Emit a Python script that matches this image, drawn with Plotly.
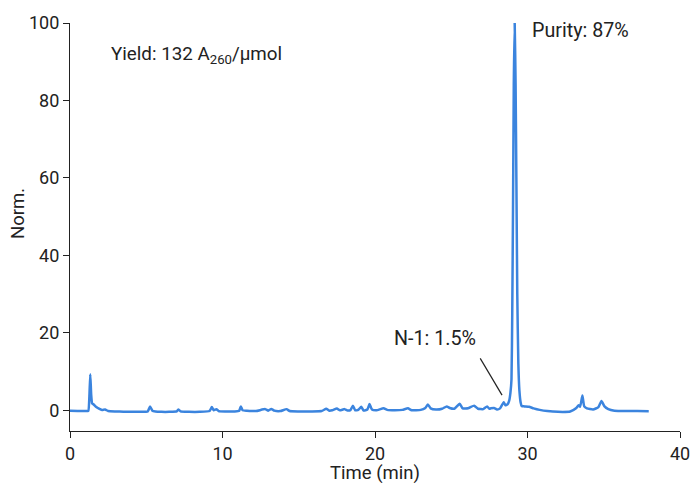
import plotly.graph_objects as go

# Chromatogram trace (time in min, normalized absorbance)
time_min = [
    0.0, 0.5, 1.0, 1.2, 1.27, 1.33, 1.39, 1.45, 1.55, 1.7, 1.9, 2.1, 2.3, 2.5,
    3.0, 3.5, 4.0, 4.5, 5.1, 5.25, 5.4, 5.6, 6.0, 6.5, 7.0, 7.1, 7.25, 7.8,
    8.5, 9.15, 9.3, 9.42, 9.6, 9.75, 10.2, 10.8, 11.1, 11.2, 11.32, 11.6,
    12.2, 12.8, 13.0, 13.2, 13.4, 13.8, 14.2, 14.4, 15.0, 15.8, 16.5, 16.8,
    17.0, 17.2, 17.5, 17.7, 18.0, 18.2, 18.4, 18.55, 18.7, 18.9, 19.1, 19.25,
    19.5, 19.64, 19.8, 20.1, 20.56, 20.8, 21.3, 21.8, 22.16, 22.4, 23.0, 23.3,
    23.47, 23.65, 24.0, 24.4, 24.7, 24.9, 25.2, 25.55, 25.75, 26.1, 26.5,
    26.75, 27.1, 27.35, 27.5, 27.6, 27.8, 28.0, 28.2, 28.44, 28.55, 28.7,
    28.8, 28.88, 28.95, 29.0, 29.05, 29.1, 29.16, 29.22, 29.27, 29.33, 29.4,
    29.47, 29.55, 29.62, 29.8, 30.1, 30.4, 30.8, 31.3, 32.0, 32.8, 33.2,
    33.35, 33.45, 33.6, 33.72, 33.9, 34.3, 34.65, 34.85, 35.05, 35.3, 35.7,
    36.5, 37.2, 37.95,
]
signal = [
    -0.15, -0.2, -0.2, -0.15, 3.5, 9.3, 4.0, 1.8, 1.5, 0.9, 0.4, 0.1, 0.2, -0.2,
    -0.3, -0.35, -0.35, -0.4, -0.3, 1.0, -0.1, -0.3, -0.4, -0.4, -0.3, 0.2, -0.3, -0.4,
    -0.4, -0.2, 0.85, 0.0, 0.3, -0.2, -0.3, -0.3, -0.1, 1.0, 0.0, -0.1,
    -0.2, 0.3, -0.1, 0.35, -0.1, -0.2, 0.3, -0.2, -0.3, -0.3, -0.2, 0.4,
    -0.1, 0.0, 0.45, 0.0, 0.3, -0.05, 0.1, 1.2, 0.0, 0.1, 0.9, -0.05,
    0.2, 1.6, 0.2, 0.0, 0.5, 0.1, 0.0, 0.1, 0.5, 0.0, 0.1, 0.6,
    1.5, 0.5, 0.2, 0.4, 1.0, 0.6, 0.4, 1.7, 0.5, 0.5, 1.2,
    0.4, 0.3, 1.0, 0.4, 0.5, 0.6, 0.2, 0.5, 2.1, 1.3, 1.6,
    2.5, 4.5, 8.0, 25.0, 52.0, 84.0, 100.0, 84.0, 60.0, 30.0, 12.0,
    5.0, 2.0, 1.1, 1.0, 0.9, 0.5, 0.1, -0.2, -0.4, -0.3, 0.6,
    1.3, 0.9, 3.8, 1.0, 0.5, 0.2, 0.8, 2.4, 1.0, 0.3, -0.1,
    -0.2, -0.2, -0.25,
]

x_ticks = [0, 10, 20, 30, 40]
y_ticks = [0, 20, 40, 60, 80, 100]

FONT = "Roboto"
INK = "#222222"
LINE = "#3b84de"

ML, MR, MT, MB = 70, 11, 23, 52
W, H = 691, 483
plot_w = W - ML - MR
plot_h = H - MT - MB


def px_to_paper(px, py):
    return (px - ML) / plot_w, (H - MB - py) / plot_h


fig = go.Figure()
fig.add_trace(go.Scatter(
    x=time_min, y=signal, mode="lines",
    line=dict(color=LINE, width=2.5, shape="spline", smoothing=0.4),
    hoverinfo="skip", showlegend=False,
))

# N-1 pointer line
fig.add_shape(type="line", xref="x", yref="y",
              x0=26.9, y0=13.4, x1=28.33, y1=3.9,
              line=dict(color=INK, width=1.2))

fig.add_annotation(x=23.95, y=18.5, xref="x", yref="y", text="N-1: 1.5%",
                   showarrow=False, xanchor="center", yanchor="middle",
                   font=dict(family=FONT, size=19.7, color=INK))
fig.add_annotation(x=30.15, y=98.1, xref="x", yref="y", text="Purity: 87%",
                   showarrow=False, xanchor="left", yanchor="middle",
                   font=dict(family=FONT, size=19.7, color=INK))
fig.add_annotation(x=2.56, y=91.8, xref="x", yref="y",
                   text="Yield: 132 A<sub>260</sub>/µmol",
                   showarrow=False, xanchor="left", yanchor="middle",
                   font=dict(family=FONT, size=18.8, color=INK))

# axis titles
tx, ty = px_to_paper(375, 473)
fig.add_annotation(x=tx, y=ty, xref="paper", yref="paper", text="Time (min)",
                   showarrow=False, xanchor="center", yanchor="middle",
                   font=dict(family=FONT, size=18.5, color=INK))
nx, ny = px_to_paper(18, 214)
fig.add_annotation(x=nx, y=ny, xref="paper", yref="paper", text="Norm.",
                   showarrow=False, textangle=-90, xanchor="center", yanchor="middle",
                   font=dict(family=FONT, size=18.5, color=INK))

fig.update_layout(
    width=W, height=H,
    margin=dict(l=ML, r=MR, t=MT, b=MB, autoexpand=False),
    paper_bgcolor="white", plot_bgcolor="white",
    font=dict(family=FONT, size=18, color=INK),
    xaxis=dict(range=[0, 40], tickvals=x_ticks, showgrid=False, zeroline=False,
               showline=True, linecolor=INK, linewidth=1.2, automargin=False,
               ticks="outside", ticklen=6, tickcolor=INK, tickwidth=1.2),
    yaxis=dict(range=[-5.35, 100], tickvals=y_ticks, showgrid=False, zeroline=False,
               showline=True, linecolor=INK, linewidth=1.2, automargin=False,
               ticks="outside", ticklen=6, tickcolor=INK, tickwidth=1.2),
)

fig.write_html("out.html")
